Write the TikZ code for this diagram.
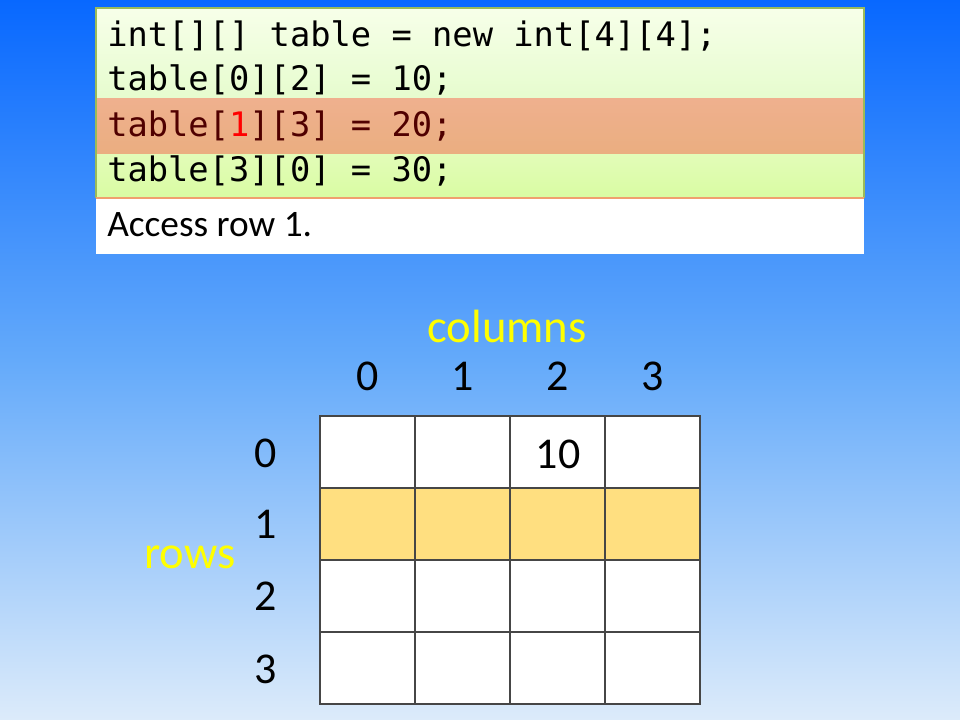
\documentclass[tikz,border=0pt]{standalone}
\usepackage{fontspec}
\setmainfont{Carlito}
\newfontfamily\codefont{DejaVu Sans Mono}
\definecolor{bgtop}{RGB}{8,104,255}
\definecolor{bgmid}{RGB}{100,170,250}
\definecolor{bgbot}{RGB}{220,235,250}
\definecolor{gtop}{RGB}{247,255,233}
\definecolor{gbot}{RGB}{230,252,206}
\definecolor{otop}{RGB}{239,176,142}
\definecolor{obot}{RGB}{234,174,128}
\definecolor{g2top}{RGB}{226,252,184}
\definecolor{g2bot}{RGB}{217,252,162}
\definecolor{gborder}{RGB}{155,187,89}
\definecolor{oline}{RGB}{240,160,110}
\definecolor{darkred}{RGB}{80,0,0}
\definecolor{rowhl}{RGB}{255,223,128}
\definecolor{gridline}{RGB}{70,70,70}
\definecolor{lbl}{RGB}{255,255,0}
\tikzset{
  codeline/.style={anchor=base west,inner sep=0pt,font=\codefont\fontsize{25.3}{30}\selectfont},
  note/.style={anchor=base west,inner sep=0pt,font=\fontsize{28}{32}\selectfont},
  idx/.style={anchor=base,inner sep=0pt,font=\fontsize{33}{38}\selectfont},
  axislbl/.style={anchor=base,inner sep=0pt,text=lbl,font=\fontsize{35}{40}\selectfont},
  cell/.style={draw=gridline,line width=0.8pt},
}
\begin{document}
\begin{tikzpicture}[x=0.75pt,y=-0.75pt]
\useasboundingbox (0,0) rectangle (960,720);
% background
\shade[top color=bgtop,bottom color=bgbot,middle color=bgmid] (0,0) rectangle (960,720);
% code box
\shade[top color=gtop,bottom color=gbot] (96,8) rectangle (864,99);
\shade[top color=otop,bottom color=obot] (96,99) rectangle (864,155);
\shade[top color=g2top,bottom color=g2bot] (96,155) rectangle (864,198);
\draw[gborder,line width=0.8pt] (96,198) -- (96,8) -- (864,8) -- (864,198);
\fill[white] (96,198) rectangle (864,254);
\draw[oline,line width=0.8pt] (96,198) -- (864,198);
\node[codeline] (c1) at (107,47) {int[][] table = new int[4][4];};
\node[codeline] (c2) at (107,91) {table[0][2] = 10;};
\node[codeline,text=darkred] (c3) at (107,137) {table[\textcolor{red}{1}][3] = 20;};
\node[codeline] (c4) at (107,182) {table[3][0] = 30;};
\node[note] (msg) at (107,237) {Access row 1.};
% grid
\fill[rowhl] (320,488) rectangle (700,560);
\fill[white] (320,416) rectangle (700,488);
\fill[white] (320,560) rectangle (700,704);
\foreach \i in {0,1,2,3}{
  \foreach \j in {0,1,2,3}{
    \draw[cell] ({320+95*\i},{416+72*\j}) rectangle ({415+95*\i},{488+72*\j});
  }
}
\node[idx] (v10) at (558,468) {10};
% headers
\node[axislbl] (cols) at (507,342) {columns};
\node[axislbl] (rows) at (190,568) {rows};
\node[idx] (h0) at (367.5,390) {0};
\node[idx] (h1) at (462.5,390) {1};
\node[idx] (h2) at (557.5,390) {2};
\node[idx] (h3) at (652.5,390) {3};
\node[idx] (r0) at (266,467) {0};
\node[idx] (r1) at (266,538) {1};
\node[idx] (r2) at (266,610) {2};
\node[idx] (r3) at (266,683) {3};
\end{tikzpicture}
\end{document}
